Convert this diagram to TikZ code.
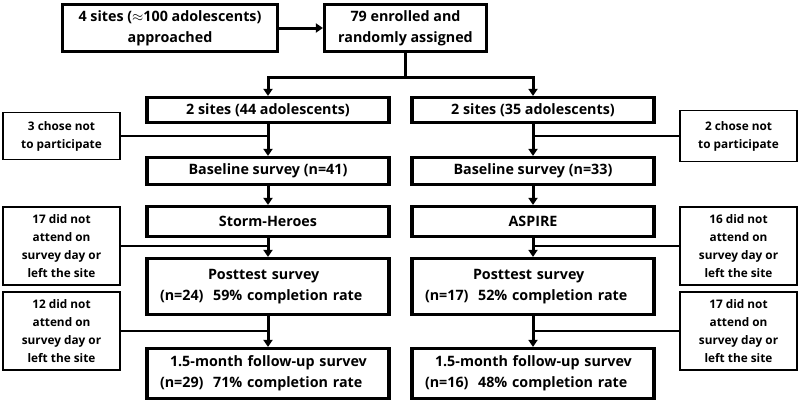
\documentclass[tikz,border=0pt]{standalone}
\usepackage{fontspec}
\setmainfont{Open Sans}
\usetikzlibrary{arrows.meta}

\begin{document}
\begin{tikzpicture}[x=1pt, y=-1pt,
    mainbox/.style={draw, line width=3.2pt, inner sep=0pt, minimum width=242pt, align=center, font=\fontsize{14.3}{21}\selectfont\bfseries},
    sidebox/.style={draw, line width=1.5pt, inner sep=0pt, minimum width=117pt, minimum height=78pt, align=center, font=\fontsize{11.8}{18}\selectfont\bfseries},
    flow/.style={line width=3pt, -{Triangle[length=7pt,width=9pt]}},
    feed/.style={line width=1.5pt}]
  \useasboundingbox (0,0) rectangle (800,408);

  % enrolment
  \node[mainbox, minimum width=215pt, minimum height=47pt] (reach) at (170,28) {4 sites ($\approx$100 adolescents)\\approached};
  \node[mainbox, minimum width=162pt, minimum height=47pt] (enrol) at (405.5,28) {79 enrolled and\\randomly assigned};
  \draw[flow] (reach) -- (enrol);

  % two arms
  \node[mainbox, minimum height=25pt] (siteL) at (268,110) {2 sites (44 adolescents)};
  \node[mainbox, minimum height=25pt] (siteR) at (533,110) {2 sites (35 adolescents)};
  \path (enrol.south) ++(0,24) coordinate (split);
  \draw[line width=3pt] (enrol.south) -- (split);
  \draw[flow] (split) -| (siteL.north);
  \draw[flow] (split) -| (siteR.north);

  \node[mainbox, minimum height=27pt] (baseL) at (268,171) {Baseline survey (n=41)};
  \node[mainbox, minimum height=27pt] (baseR) at (533,171) {Baseline survey (n=33)};
  \node[mainbox, minimum height=30pt] (progL) at (268,221.5) {Storm-Heroes};
  \node[mainbox, minimum height=30pt] (progR) at (533,221.5) {ASPIRE};
  \node[mainbox, text width=216pt, align=left, minimum height=56pt] (postL) at (268,286.5)
    {\hspace*{48pt}Posttest survey\\(n=24)\ \ 59\% completion rate};
  \node[mainbox, text width=216pt, align=left, minimum height=56pt] (postR) at (533,286.5)
    {\hspace*{48pt}Posttest survey\\(n=17)\ \ 52\% completion rate};
  \node[mainbox, text width=216pt, align=left, minimum height=50pt] (follL) at (268,373.5)
    {\hspace*{10pt}1.5-month follow-up survev\\(n=29)\ \ 71\% completion rate};
  \node[mainbox, text width=216pt, align=left, minimum height=50pt] (follR) at (533,373.5)
    {\hspace*{10pt}1.5-month follow-up survev\\(n=16)\ \ 48\% completion rate};

  \foreach \a/\b in {siteL/baseL, baseL/progL, progL/postL, postL/follL,
                     siteR/baseR, baseR/progR, progR/postR, postR/follR}
    \draw[flow] (\a) -- (\b);

  % drop-outs
  \node[sidebox, minimum height=47pt] (optL) at (61.5,136) {3 chose not\\to participate};
  \node[sidebox, minimum height=51pt] (optR) at (738.5,136) {2 chose not\\to participate};
  \node[sidebox] (missL1) at (61.5,246) {17 did not\\attend on\\survey day or\\left the site};
  \node[sidebox] (missR1) at (738.5,246) {16 did not\\attend on\\survey day or\\left the site};
  \node[sidebox] (missL2) at (61.5,331) {12 did not\\attend on\\survey day or\\left the site};
  \node[sidebox] (missR2) at (738.5,331) {17 did not\\attend on\\survey day or\\left the site};

  \draw[feed] (optL.east) -- (optL.east -| siteL.south);
  \draw[feed] (optR.west) -- (optR.west -| siteR.south);
  \draw[feed] (missL1.east) -- (missL1.east -| progL.south);
  \draw[feed] (missR1.west) -- (missR1.west -| progR.south);
  \draw[feed] (missL2.east) -- (missL2.east -| postL.south);
  \draw[feed] (missR2.west) -- (missR2.west -| postR.south);
\end{tikzpicture}
\end{document}
